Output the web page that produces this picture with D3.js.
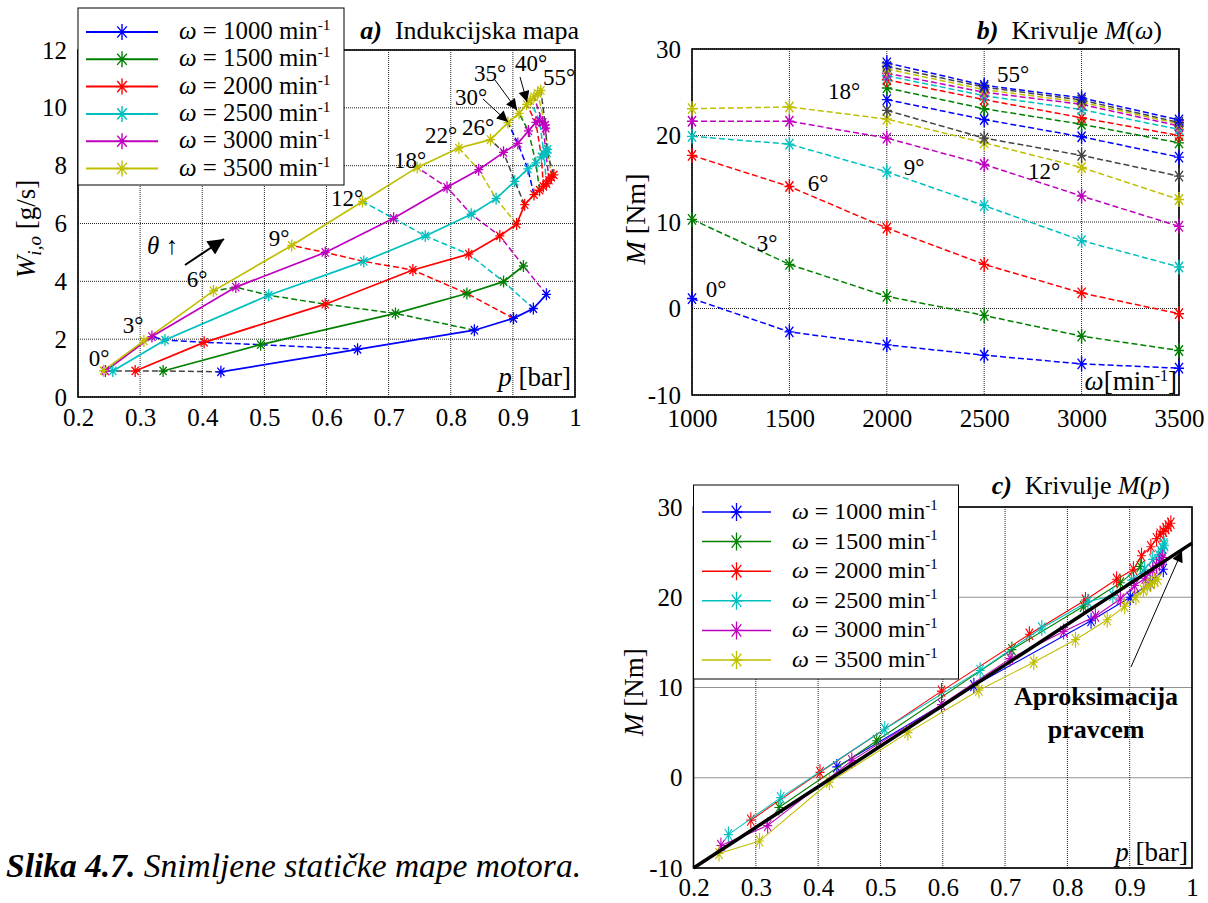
<!DOCTYPE html>
<html><head><meta charset="utf-8">
<script src="https://cdn.jsdelivr.net/npm/d3@7"></script>
<style>
body{margin:0;background:#fff}
svg{display:block}
text{font-family:"Liberation Serif","Times New Roman",serif;fill:#000}
</style>
</head><body>
<svg id="fig" width="1208" height="903"></svg>
<script>
// ---------------- DATA ----------------
const angles = [0,3,6,9,12,18,22,26,30,35,40,43,46,50,55];
const speeds = [1000,1500,2000,2500,3000,3500];
const speedLabels = ["1000","1500","2000","2500","3000","3500"];
const speedColors = ["#0000ff","#008000","#ff0000","#00bfbf","#bf00bf","#bfbf00"];
const angleColorsA = ["#444444","#0000ff","#008000","#ff0000","#00bfbf","#bf00bf","#bfbf00"];
const angleColorsB = ["#0000ff","#008000","#ff0000","#00bfbf","#bf00bf","#bfbf00","#444444"];

// pressure p [bar] per speed (index = angle index)
const p_1000 = [0.430,0.650,0.838,0.901,0.933,0.954];
const p_1500 = [0.337,0.494,0.711,0.826,0.885,0.917];
const p_2000 = [0.292,0.403,0.598,0.739,0.829,0.879,0.906,0.919,0.934,0.943,0.949,0.954,0.958,0.962,0.966];
const p_2500 = [0.256,0.340,0.507,0.660,0.759,0.833,0.873,0.903,0.924,0.937,0.946,0.950,0.953,0.956,0.955];
const p_3000 = [0.244,0.319,0.454,0.598,0.708,0.794,0.845,0.885,0.908,0.925,0.937,0.943,0.948,0.952,0.953];
const p_3500 = [0.241,0.306,0.418,0.544,0.658,0.746,0.813,0.864,0.892,0.910,0.922,0.928,0.934,0.940,0.945];
// air flow W_i,o [g/s]
const W_1000 = [0.87,1.65,2.31,2.72,3.06,3.55];
const W_1500 = [0.90,1.81,2.89,3.58,3.99,4.53];
const W_2000 = [0.90,1.89,3.21,4.39,4.94,5.57,5.98,6.65,7.00,7.15,7.28,7.38,7.50,7.60,7.68];
const W_2500 = [0.90,1.97,3.52,4.69,5.57,6.32,6.86,7.46,7.89,8.10,8.30,8.42,8.50,8.56,8.45];
const W_3000 = [0.90,2.09,3.80,5.00,6.18,7.25,7.86,8.46,8.77,9.20,9.50,9.55,9.50,9.40,9.30];
const W_3500 = [0.91,1.94,3.67,5.24,6.76,7.94,8.61,8.90,9.49,9.81,10.12,10.25,10.38,10.50,10.60];
// torque M [Nm] as read in panel b
const M_1000 = [1.15,10.3,17.7,19.9,21.65,23.1];
const M_1500 = [-2.7,5.1,14.1,19.0,21.65,23.3];
const M_2000 = [-4.2,1.4,9.3,15.8,19.7,21.9,22.9,24.15,25.5,26.45,26.9,27.2,27.7,28.0,28.4];
const M_2500 = [-5.4,-0.8,5.1,11.9,16.65,19.15,19.7,21.85,23.1,24.15,24.6,25.0,25.3,25.6,25.8];
const M_3000 = [-6.4,-3.2,1.8,7.85,13.0,16.3,17.7,19.85,21.3,22.05,23.0,23.6,23.85,24.1,24.35];
const M_3500 = [-6.9,-4.85,-0.6,4.8,9.5,12.6,15.3,17.5,19.15,20.0,20.7,21.1,21.35,21.5,21.8];
// torque M [Nm] as read in panel c
const Mc_1000 = [1.2,10.2,17.4,20.0,21.6,23.1];
const Mc_1500 = [-3.3,4.1,14.2,19.0,21.6,23.4];
const Mc_2000 = [-4.7,0.6,9.6,15.9,19.7,22.0,23.1,24.6,25.6,26.5,27.0,27.3,27.6,27.9,28.2];
const Mc_2500 = [-6.3,-2.2,5.4,11.9,16.6,19.5,20.2,21.9,23.1,24.2,24.7,25.1,25.4,25.7,25.9];
const Mc_3000 = [-7.5,-5.3,1.9,8.1,13.2,16.2,17.9,19.8,21.3,22.1,23.0,23.5,23.8,24.1,24.4];
const Mc_3500 = [-8.4,-7.0,-0.5,5.0,9.7,12.8,15.3,17.5,19.0,20.0,20.8,21.2,21.5,21.8,22.0];
// linear approximation endpoints
const fitP = [0.2,1.0];
const fitM = [-10,26];

// tick values / labels
const pTicks = [0.2,0.3,0.4,0.5,0.6,0.7,0.8,0.9,1.0];
const pTickLabels = ["0.2","0.3","0.4","0.5","0.6","0.7","0.8","0.9","1"];
const wTicks = [0,2,4,6,8,10,12];
const omegaTicks = [1000,1500,2000,2500,3000,3500];
const mTicks = [-10,0,10,20,30];

const P = [p_1000,p_1500,p_2000,p_2500,p_3000,p_3500];
const W = [W_1000,W_1500,W_2000,W_2500,W_3000,W_3500];
const M = [M_1000,M_1500,M_2000,M_2500,M_3000,M_3500];
const Mc = [Mc_1000,Mc_1500,Mc_2000,Mc_2500,Mc_3000,Mc_3500];

// ---------------- DRAW ----------------
const FONT = '"Liberation Serif","Times New Roman",serif';
const TICK = 25;
const svg = d3.select("#fig");
const defs = svg.append("defs");
function arrowDef(id, w, h){
  defs.append("marker").attr("id",id).attr("viewBox","0 0 10 10").attr("refX",10).attr("refY",5)
    .attr("markerWidth",w).attr("markerHeight",h).attr("markerUnits","userSpaceOnUse").attr("orient","auto")
    .append("path").attr("d","M0,0L10,5L0,10Z").attr("fill","#000");
}
arrowDef("ahS",16,11); arrowDef("ahL",20,16);

function star(g, x, y, color, hx, hy, sw){
  const dx = hx*0.8, dy = hy*0.7;
  g.append("path").attr("d",
    `M${x},${y-hy}L${x},${y+hy}M${x-hx},${y}L${x+hx},${y}M${x-dx},${y-dy}L${x+dx},${y+dy}M${x-dx},${y+dy}L${x+dx},${y-dy}`)
    .attr("stroke",color).attr("stroke-width",sw).attr("fill","none");
}

function makePanel(cfg){
  const g = svg.append("g");
  const x = d3.scaleLinear().domain(cfg.xd).range([cfg.l,cfg.r]);
  const y = d3.scaleLinear().domain(cfg.yd).range([cfg.b,cfg.t]);
  g.append("rect").attr("x",cfg.l).attr("y",cfg.t).attr("width",cfg.r-cfg.l).attr("height",cfg.b-cfg.t).attr("fill","#fff");
  const grid = g.append("g");
  cfg.xt.forEach(v=>{ grid.append("line").attr("x1",x(v)).attr("x2",x(v)).attr("y1",cfg.t).attr("y2",cfg.b)
      .attr("stroke","#222").attr("stroke-width",1).attr("stroke-dasharray","1,1"); });
  cfg.yt.forEach(v=>{ grid.append("line").attr("y1",y(v)).attr("y2",y(v)).attr("x1",cfg.l).attr("x2",cfg.r)
      .attr("stroke","#222").attr("stroke-width",1).attr("stroke-dasharray","1,1"); });
  const ax = g.append("g").attr("transform",`translate(0,${cfg.b})`)
     .call(d3.axisBottom(x).tickValues(cfg.xt).tickSize(0).tickPadding(cfg.xpad).tickFormat((d,i)=>cfg.xf[i]));
  ax.select(".domain").remove();
  ax.attr("font-family",FONT).attr("font-size",TICK);
  const ay = g.append("g").attr("transform",`translate(${cfg.l},0)`)
     .call(d3.axisLeft(y).tickValues(cfg.yt).tickSize(0).tickPadding(11).tickFormat(d=>String(d)));
  ay.select(".domain").remove();
  ay.attr("font-family",FONT).attr("font-size",TICK);
  return {g,x,y,cfg};
}
function frame(pn){
  const c = pn.cfg;
  pn.g.append("rect").attr("x",c.l).attr("y",c.t).attr("width",c.r-c.l).attr("height",c.b-c.t)
    .attr("fill","none").attr("stroke","#000").attr("stroke-width",1.6);
}
function lineGen(x,y){ return d3.line().x(d=>x(d[0])).y(d=>y(d[1])); }

// ===== Panel a =====
const A = makePanel({xd:[0.2,1],yd:[0,12],l:78,r:575,b:397,t:50,xt:pTicks,yt:wTicks,xf:pTickLabels,xpad:11});
frame(A);
{
  const lg = lineGen(A.x,A.y);
  angles.forEach((ang,i)=>{
    const pts = [];
    speeds.forEach((s,k)=>{ if(P[k].length>i) pts.push([P[k][i],W[k][i]]); });
    A.g.append("path").attr("d",lg(pts)).attr("fill","none").attr("stroke",angleColorsA[i%7])
      .attr("stroke-width",1.5).attr("stroke-dasharray","6,3");
  });
  speeds.forEach((s,k)=>{
    const pts = P[k].map((p,i)=>[p,W[k][i]]);
    A.g.append("path").attr("d",lg(pts)).attr("fill","none").attr("stroke",speedColors[k]).attr("stroke-width",1.7);
  });
  speeds.forEach((s,k)=>{
    P[k].forEach((p,i)=> star(A.g, A.x(p), A.y(W[k][i]), speedColors[k], 4.5, 6, 1.3));
  });
}

// ===== Panel b =====
const B = makePanel({xd:[1000,3500],yd:[-10,30],l:692,r:1179,b:395,t:49,xt:omegaTicks,yt:mTicks,xf:omegaTicks.map(String),xpad:14});
frame(B);
{
  const lg = lineGen(B.x,B.y);
  angles.forEach((ang,i)=>{
    const pts = [];
    speeds.forEach((s,k)=>{ if(M[k].length>i) pts.push([s,M[k][i]]); });
    const col = angleColorsB[i%7];
    B.g.append("path").attr("d",lg(pts)).attr("fill","none").attr("stroke",col)
      .attr("stroke-width",1.5).attr("stroke-dasharray","6,3");
    pts.forEach(d=>star(B.g, B.x(d[0]), B.y(d[1]), col, 5, 7.5, 1.4));
  });
}

// ===== Panel c =====
const C = makePanel({xd:[0.2,1],yd:[-10,30],l:693.5,r:1192,b:868,t:507,xt:pTicks,yt:mTicks,xf:pTickLabels,xpad:10});
frame(C);
{
  const lg = lineGen(C.x,C.y);
  speeds.forEach((s,k)=>{
    const pts = P[k].map((p,i)=>[p,Mc[k][i]]);
    C.g.append("path").attr("d",lg(pts)).attr("fill","none").attr("stroke",speedColors[k]).attr("stroke-width",1.1);
    pts.forEach(d=>star(C.g, C.x(d[0]), C.y(d[1]), speedColors[k], 4.5, 8, 1.1));
  });
  C.g.append("path").attr("d",lg(fitP.map((p,i)=>[p,fitM[i]]))).attr("fill","none")
    .attr("stroke","#000").attr("stroke-width",3.5);
}

// ===== Legends =====
function legend(x0,y0,w,h,rowY0,dy,lx0,lx1,tx,target,hx,hy,sw,lw){
  const g = svg.append("g");
  g.append("rect").attr("x",x0).attr("y",y0).attr("width",w).attr("height",h).attr("fill","#fff")
    .attr("stroke","#000").attr("stroke-width",1);
  const texts = [];
  speeds.forEach((s,k)=>{
    const yy = rowY0 + k*dy;
    g.append("line").attr("x1",lx0).attr("x2",lx1).attr("y1",yy).attr("y2",yy).attr("stroke",speedColors[k]).attr("stroke-width",lw);
    star(g,(lx0+lx1)/2,yy,speedColors[k],hx,hy,sw);
    const t = g.append("text").attr("x",tx).attr("y",yy+7).attr("font-size",22);
    t.append("tspan").attr("font-style","italic").text("ω");
    t.append("tspan").text(" = " + speedLabels[k] + " min");
    t.append("tspan").attr("font-size",14).attr("dy",-9).text("-1");
    texts.push(t);
  });
  const len = texts[0].node().getComputedTextLength();
  const fs = Math.max(18, Math.min(26, 22*target/len));
  texts.forEach(t=>{ t.attr("font-size",fs); t.select("tspan:last-child").attr("font-size",fs*0.62); });
}
legend(78,8,266,177,32,27.3,86,158,179,152,6,8,1.4,2);
legend(693.5,485,265,194,512,29.6,702,771,792,146,6,9,1.3,1.5);

// ===== Texts =====
function txt(x,y,parts,opts={}){
  const t = svg.append("text").attr("x",x).attr("y",y).attr("font-size",opts.size||26)
    .attr("text-anchor",opts.anchor||"start");
  if(opts.rotate) t.attr("transform",`rotate(-90,${x},${y})`);
  parts.forEach(pp=>{
    const s = t.append("tspan").text(pp.t);
    if(pp.i) s.attr("font-style","italic");
    if(pp.b) s.attr("font-weight","bold");
    if(pp.size) s.attr("font-size",pp.size);
    if(pp.dy!==undefined) s.attr("dy",pp.dy);
  });
  return t;
}
// titles
txt(579,39,[{t:"a)",i:1,b:1},{t:"\u00a0\u00a0Indukcijska mapa"}],{anchor:"end",size:26});
txt(1162,39,[{t:"b)",i:1,b:1},{t:"\u00a0\u00a0Krivulje "},{t:"M",i:1},{t:"("},{t:"ω",i:1},{t:")"}],{anchor:"end",size:26});
txt(1170,494,[{t:"c)",i:1,b:1},{t:"\u00a0\u00a0Krivulje "},{t:"M",i:1},{t:"("},{t:"p",i:1},{t:")"}],{anchor:"end",size:26});
// axis labels
txt(35,229,[{t:"W",i:1},{t:"i,o",i:1,size:19,dy:6},{t:" [g/s]",dy:-6}],{anchor:"middle",rotate:1,size:27});
txt(571,386,[{t:"p",i:1},{t:" [bar]"}],{anchor:"end",size:27});
txt(645,219,[{t:"M",i:1},{t:" [Nm]"}],{anchor:"middle",rotate:1,size:28});
txt(1177,390,[{t:"ω",i:1},{t:"[min"},{t:"-1",size:16,dy:-9},{t:"]",dy:9}],{anchor:"end",size:27});
txt(643,692,[{t:"M",i:1},{t:" [Nm]"}],{anchor:"middle",rotate:1,size:27});
txt(1188,861,[{t:"p",i:1},{t:" [bar]"}],{anchor:"end",size:27});
// angle labels panel a
const aLabs = [["0°",99,358],["3°",133,325],["6°",197,279],["9°",279,238],["12°",347,198],["18°",410,160],
  ["22°",441,135],["26°",478,127],["30°",471,97],["35°",490,73],["40°",531,63],["55°",559,77]];
aLabs.forEach(d=>txt(d[1],d[2]+8,[{t:d[0]}],{anchor:"middle",size:23}));
// angle labels panel b
const bLabs = [["0°",716,289],["3°",767,243],["6°",818,183],["9°",914,167],["12°",1044,171],["18°",844,91],["55°",1013,74]];
bLabs.forEach(d=>txt(d[1],d[2]+8,[{t:d[0]}],{anchor:"middle",size:23}));
// theta annotation
txt(147,254,[{t:"θ",i:1},{t:" ↑"}],{size:25});
svg.append("line").attr("x1",185).attr("y1",265).attr("x2",224).attr("y2",239).attr("stroke","#000").attr("stroke-width",2).attr("marker-end","url(#ahL)");
// arrows panel a
[[483,99,508,122],[495,80,517,110],[520,77,527,102]].forEach(a=>{
  svg.append("line").attr("x1",a[0]).attr("y1",a[1]).attr("x2",a[2]).attr("y2",a[3]).attr("stroke","#000").attr("stroke-width",1).attr("marker-end","url(#ahS)");
});
// panel c annotation
txt(1096,705,[{t:"Aproksimacija",b:1}],{anchor:"middle",size:26});
txt(1096,738,[{t:"pravcem",b:1}],{anchor:"middle",size:26});
svg.append("line").attr("x1",1131).attr("y1",667).attr("x2",1182).attr("y2",551).attr("stroke","#000").attr("stroke-width",1).attr("marker-end","url(#ahS)");
// caption
txt(6,877,[{t:"Slika 4.7.",i:1,b:1},{t:" Snimljene statičke mape motora.",i:1}],{size:33.5});
</script>
</body></html>
